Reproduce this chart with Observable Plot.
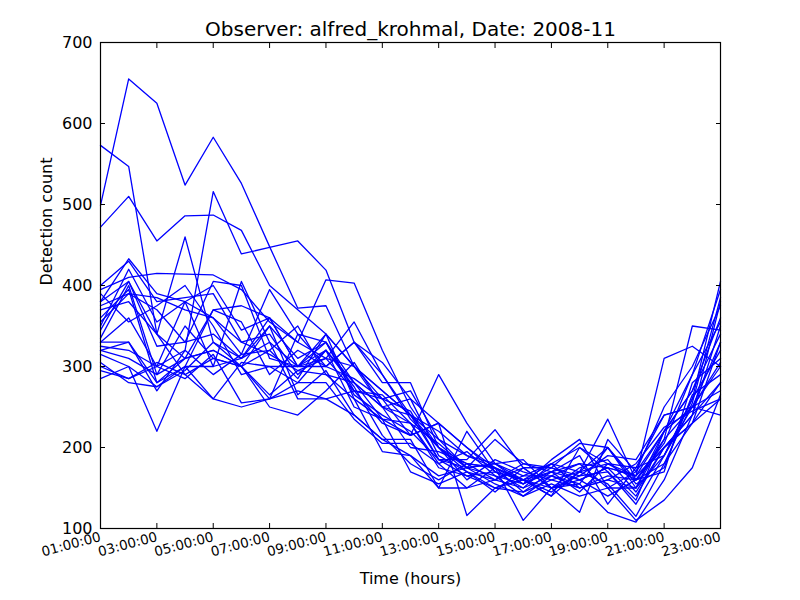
<!DOCTYPE html>
<html>
<head>
<meta charset="utf-8">
<script src="https://cdn.jsdelivr.net/npm/d3@7"></script>
<script src="https://cdn.jsdelivr.net/npm/@observablehq/plot@0.6"></script>
<style>
  html, body { margin: 0; padding: 0; background: #fff; }
  #chart svg { display: block; }
</style>
</head>
<body>
<div id="chart"></div>
<script>
const titleText = "Observer: alfred_krohmal, Date: 2008-11";
const xLabel = "Time (hours)";
const yLabel = "Detection count";
const hours = [1,2,3,4,5,6,7,8,9,10,11,12,13,14,15,16,17,18,19,20,21,22,23];
const xTicks = [1,3,5,7,9,11,13,15,17,19,21,23];
const yTicks = [100,200,300,400,500,600,700];

const s01 = [499,655,625,524,583,526,448,372,375,300,250,260,190,170,160,175,150,165,170,130,190,250,330];
const s02 = [573,547,340,290,310,300,350,310,330,280,250,240,185,175,165,155,175,160,175,165,220,270,340];
const s03 = [472,510,455,486,487,468,400,370,340,300,260,270,210,190,180,165,180,200,180,160,210,250,300];
const s04 = [330,360,300,320,516,439,447,455,419,330,290,240,210,175,180,160,170,180,150,170,220,270,360];
const s05 = [395,410,415,414,413,395,355,330,407,403,320,250,200,160,185,170,160,150,160,150,190,260,405];
const s06 = [380,433,390,380,400,345,360,300,330,270,260,215,230,200,175,160,150,175,185,145,200,240,380];
const s07 = [375,390,385,370,360,315,395,340,300,330,280,280,200,180,160,180,175,165,190,185,240,250,240];
const s08 = [370,380,340,460,330,310,360,330,310,300,270,240,220,190,175,145,160,170,200,155,175,265,290];
const s09 = [355,390,370,330,405,400,310,300,310,355,290,235,200,170,150,165,165,180,175,140,200,230,330];
const s10 = [350,420,355,380,360,330,315,295,290,280,250,230,180,150,160,150,165,155,200,160,180,255,385];
const s11 = [335,400,290,350,310,300,260,340,330,265,240,220,185,165,170,160,140,200,170,135,220,290,355];
const s12 = [330,330,280,300,370,355,290,320,300,330,305,260,230,200,170,150,180,150,165,160,170,280,310];
const s13 = [320,310,290,310,320,300,320,350,290,260,235,230,175,165,150,145,170,145,180,175,240,250,305];
const s14 = [315,300,275,295,330,300,250,240,270,305,250,200,195,180,175,160,145,170,155,115,180,230,260];
const s15 = [305,280,275,300,300,310,350,265,295,240,210,210,150,150,175,155,170,190,130,175,190,260,320];
const s16 = [300,285,305,290,260,250,260,280,280,235,205,205,180,195,165,140,155,140,150,110,135,175,265];
const s17 = [295,285,300,285,315,255,260,270,260,240,210,190,165,175,155,140,165,150,160,180,225,245,260];
const s18 = [285,300,220,300,260,305,300,280,320,275,215,180,160,180,175,110,150,155,120,108,160,240,280];
const s19 = [360,395,280,310,370,375,360,300,340,300,270,240,200,175,180,185,150,120,210,170,250,300,375];
const s20 = [320,330,270,320,290,315,320,285,340,260,195,190,150,220,170,160,140,170,235,160,200,240,350];
const s21 = [380,405,340,310,320,300,265,295,310,270,230,215,290,230,180,155,185,210,150,150,210,350,345];
const s22 = [390,355,375,400,350,290,300,300,320,250,235,215,230,116,150,160,180,170,180,165,310,325,300];
const s23 = [345,405,325,330,340,310,330,300,300,285,260,245,185,185,222,175,150,160,175,165,200,230,280];
const s24 = [400,430,380,385,390,330,340,290,320,280,235,170,155,170,145,175,175,205,200,150,220,250,270];
const s25 = [325,320,300,380,300,405,330,260,260,270,265,230,205,175,210,180,170,160,140,160,205,290,395];

const seriesList = [s01,s02,s03,s04,s05,s06,s07,s08,s09,s10,s11,s12,s13,s14,s15,s16,s17,s18,s19,s20,s21,s22,s23,s24,s25];

const rows = [];
seriesList.forEach((vals, i) => {
  vals.forEach((v, j) => rows.push({series: i, hour: hours[j], count: v}));
});

const fmtHour = h => String(h).padStart(2, "0") + ":00:00";
const font = "DejaVu Sans, Liberation Sans, sans-serif";

const chart = Plot.plot({
  width: 800,
  height: 600,
  marginLeft: 100,
  marginRight: 80,
  marginTop: 42,
  marginBottom: 72,
  style: {fontFamily: font, background: "#fff", color: "#000", overflow: "visible"},
  x: {domain: [1, 23]},
  y: {domain: [100, 700]},
  marks: [
    Plot.line(rows, {x: "hour", y: "count", z: "series", stroke: "#0000ff", strokeWidth: 1.3}),
    Plot.frame({stroke: "#000", strokeWidth: 1.2}),
    Plot.axisX({anchor: "bottom", ticks: xTicks, tickFormat: fmtHour, tickSize: -5, tickPadding: 13,
      tickRotate: -15, textAnchor: "end", fontSize: 13.5, label: null}),
    Plot.axisX({anchor: "top", ticks: xTicks, tickFormat: () => "", tickSize: -5, label: null}),
    Plot.axisY({anchor: "left", ticks: yTicks, tickSize: -5, tickPadding: 13, fontSize: 16, label: null}),
    Plot.axisY({anchor: "right", ticks: yTicks, tickFormat: () => "", tickSize: -5, label: null}),
    Plot.text([titleText], {frameAnchor: "top", dy: -7, fontSize: 20, fill: "#000", lineAnchor: "bottom"}),
    Plot.text([xLabel], {frameAnchor: "bottom", dy: 50, fontSize: 16, fill: "#000", lineAnchor: "middle"}),
    Plot.text([yLabel], {frameAnchor: "left", dx: -54, rotate: -90, fontSize: 16, fill: "#000", lineAnchor: "middle"})
  ]
});
document.getElementById("chart").appendChild(chart);
</script>
</body>
</html>
